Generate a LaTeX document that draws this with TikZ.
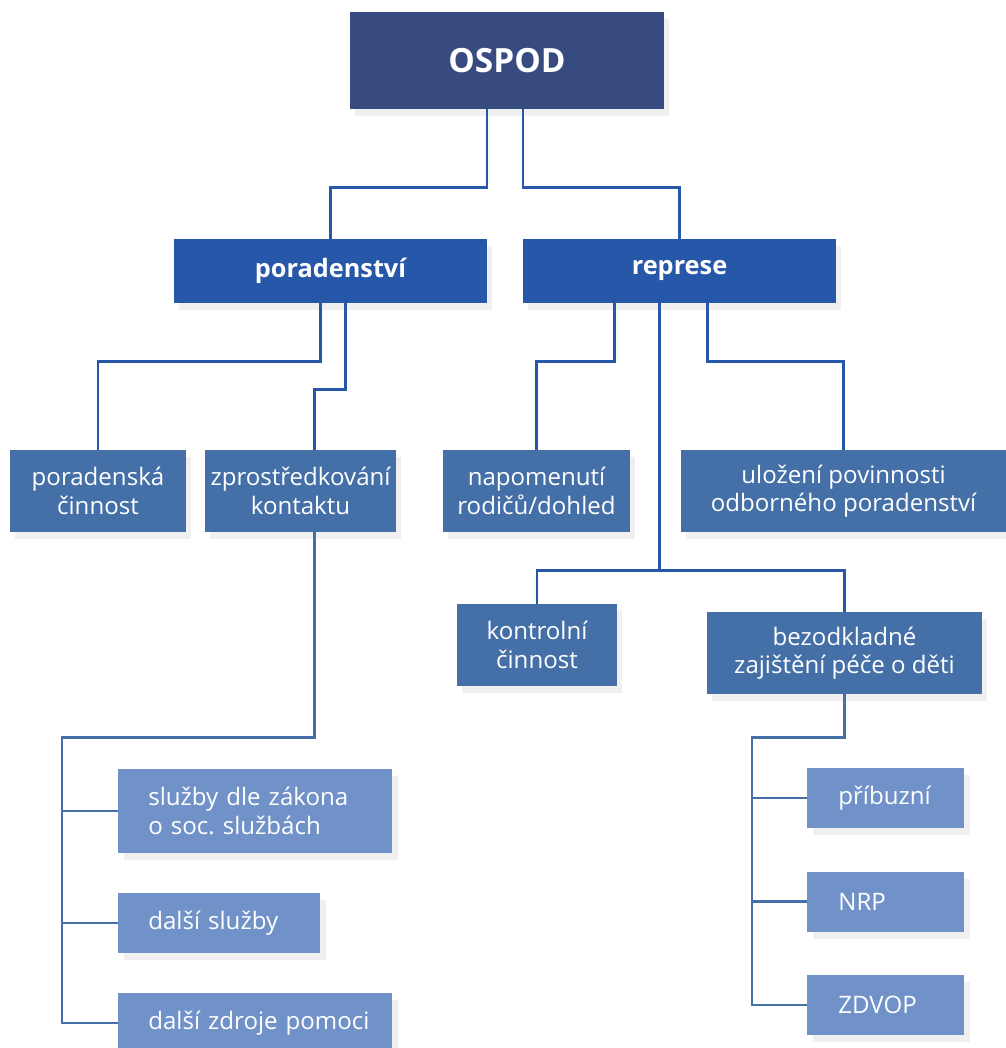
\documentclass[tikz,border=0pt]{standalone}
\usepackage{fontspec}
\setmainfont{Open Sans}
\usetikzlibrary{shadows}

\definecolor{ospodc}{HTML}{384B81}
\definecolor{topc}{HTML}{2757A8}
\definecolor{midc}{HTML}{4470A7}
\definecolor{leafc}{HTML}{7092C8}

\frenchspacing
\begin{document}
\begin{tikzpicture}[x=0.02cm, y=-0.02cm,
    box/.style = {text=white, inner sep=0pt, align=center,
      drop shadow={shadow xshift=3pt, shadow yshift=-4pt, opacity=0.12}},
    root/.style = {box, fill=ospodc, minimum width=6.28cm, minimum height=1.94cm,
      font=\fontsize{19}{23}\selectfont\bfseries},
    head/.style = {box, fill=topc, minimum width=6.26cm, minimum height=1.28cm,
      font=\fontsize{14.4}{17}\selectfont\bfseries},
    mid/.style = {box, fill=midc, minimum height=1.64cm,
      font=\fontsize{13.7}{16.2}\selectfont},
    leaf/.style = {box, fill=leafc, anchor=west, align=left, inner xsep=0.6cm,
      minimum height=1.2cm, font=\fontsize{13.7}{16.2}\selectfont},
    link/.style = {draw=topc, line width=1.6pt},
    bus/.style = {draw=midc, line width=1.6pt}]
    \useasboundingbox (0, 0) rectangle (1006, 1048);

    \node[root] (ospod) at (507, 60.5) {OSPOD};

    \node[head] (por) at (330.5, 271) {poradenství};
    \node[head] (rep) at (679.5, 271) {represe};

    \node[mid, minimum width=3.52cm] (pcin) at (98, 491) {poradenská\\činnost};
    \node[mid, minimum width=3.82cm] (zpr) at (300.5, 491) {zprostředkování\\kontaktu};
    \node[mid, minimum width=3.74cm] (nap) at (536.5, 491) {napomenutí\\rodičů/dohled};
    \node[mid, minimum width=6.5cm] (ulo) at (843.5, 491) {uložení povinnosti\\odborného poradenství};
    \node[mid, minimum width=3.2cm] (kon) at (537, 645) {kontrolní\\činnost};
    \node[mid, minimum width=5.5cm] (bez) at (844.5, 653) {bezodkladné\\zajištění péče o děti};

    \node[leaf, text width=4.28cm, minimum height=1.68cm] (sluz) at (118, 811) {služby dle zákona\\o soc. službách};
    \node[leaf, text width=2.84cm] (dal) at (118, 923) {další služby};
    \node[leaf, text width=4.28cm] (zdr) at (118, 1023) {\mbox{další zdroje pomoci}};

    \node[leaf, text width=1.9cm, inner xsep=0.62cm] (pri) at (807, 798) {příbuzní};
    \node[leaf, text width=1.9cm, inner xsep=0.62cm] (nrp) at (807, 901.5) {NRP};
    \node[leaf, text width=1.9cm, inner xsep=0.62cm] (zdv) at (807, 1005) {ZDVOP};

    \path[link] ([shift={(-20,0)}]ospod.south) -- ++(0, 78) -| (por.north);
    \path[link] ([shift={(16,0)}]ospod.south) -- ++(0, 78) -| (rep.north);

    \path[link] ([shift={(-10,0)}]por.south) -- ++(0, 58) -| (pcin.north);
    \path[link] ([shift={(15,0)}]por.south) -- ++(0, 86) -| ([shift={(14,0)}]zpr.north);

    \path[link] ([shift={(-65,0)}]rep.south) -- ++(0, 58) -| (nap.north);
    \path[link] ([shift={(28,0)}]rep.south) -- ++(0, 58) -| (ulo.north);
    \path[link] ([shift={(-20,0)}]rep.south) -- ++(0, 267) coordinate (rj) -| (kon.north);
    \path[link] (rj) -| (bez.north);

    \path[bus] ([shift={(14,0)}]zpr.south) -- ++(0, 205) -| ([shift={(-56,0)}]zdr.west) -- (zdr.west);
    \path[bus] (sluz.west) -- ++(-56, 0);
    \path[bus] (dal.west) -- ++(-56, 0);

    \path[bus] (bez.south) -- ++(0, 43) -| ([shift={(-55,0)}]zdv.west) -- (zdv.west);
    \path[bus] (pri.west) -- ++(-55, 0);
    \path[bus] (nrp.west) -- ++(-55, 0);
  \end{tikzpicture}
\end{document}
